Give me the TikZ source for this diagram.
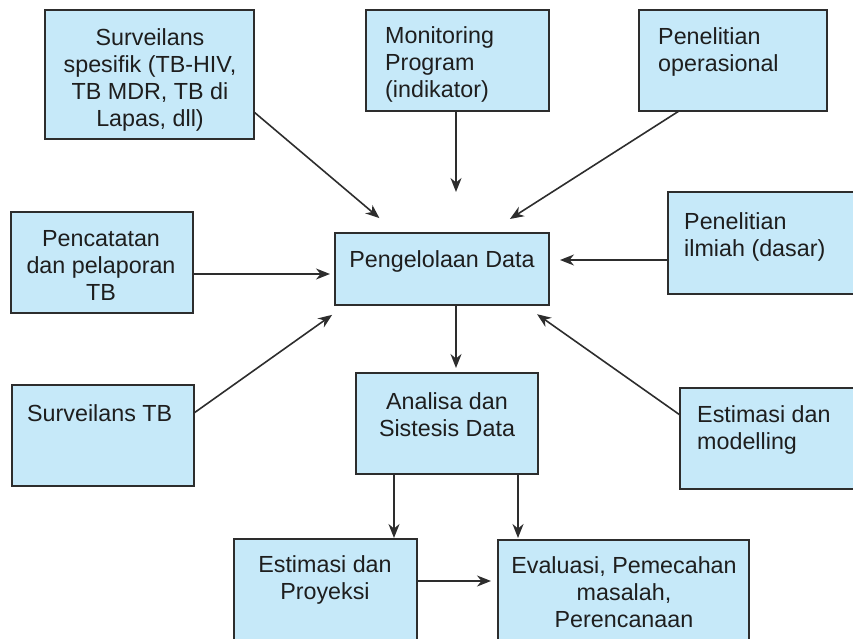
\documentclass[tikz,border=0pt]{standalone}
\usepackage{fontspec}
\setmainfont{Liberation Sans}
\usetikzlibrary{arrows.meta}
\definecolor{boxfill}{RGB}{198,233,249}
\definecolor{edgec}{RGB}{45,45,45}
\definecolor{txtc}{RGB}{30,30,30}
\begin{document}
\begin{tikzpicture}[x=1pt,y=-1pt,
  box/.style={draw=edgec, fill=boxfill, line width=1.4pt, anchor=north west, inner sep=0pt, outer sep=0pt},
  txt/.style={inner sep=0pt, text=txtc, font=\fontsize{23.3pt}{27pt}\selectfont},
  arr/.style={draw=edgec, line width=1.6pt, -{Stealth[length=14pt,width=11pt,inset=4.5pt]}}]
\clip (0,0) rectangle (853,639);
% boxes
\node[box, minimum width=209pt, minimum height=129pt] (spec) at (45,10) {};
\node[box, minimum width=183pt, minimum height=101pt] (mon) at (366,10) {};
\node[box, minimum width=188pt, minimum height=101pt] (op) at (639,10) {};
\node[box, minimum width=182pt, minimum height=101pt] (pen) at (11,212) {};
\node[box, minimum width=214pt, minimum height=72pt] (mgmt) at (335,233) {};
\node[box, minimum width=200pt, minimum height=102pt] (ilm) at (668,192) {};
\node[box, minimum width=182pt, minimum height=101pt] (surv) at (12,385) {};
\node[box, minimum width=182pt, minimum height=101pt] (ana) at (356,373) {};
\node[box, minimum width=200pt, minimum height=101pt] (mod) at (680,388) {};
\node[box, minimum width=183pt, minimum height=120pt] (proy) at (234,539) {};
\node[box, minimum width=251pt, minimum height=120pt] (eval) at (498,540) {};
% texts (base anchor = baseline of last line)
\node[txt, anchor=base, align=center] (spec-t) at (150,127) {Surveilans\\spesifik (TB-HIV,\\TB MDR, TB di\\Lapas, dll)};
\node[txt, anchor=base west, align=left] (mon-t) at (385,98) {Monitoring\\Program\\(indikator)};
\node[txt, anchor=base west, align=left] (op-t) at (658,72) {Penelitian\\operasional};
\node[txt, anchor=base, align=center] (pen-t) at (101,300) {Pencatatan\\dan pelaporan\\TB};
\node[txt, anchor=base] (mgmt-t) at (442,267) {Pengelolaan Data};
\node[txt, anchor=base west, align=left] (ilm-t) at (684,256) {Penelitian\\ilmiah (dasar)};
\node[txt, anchor=base west] (surv-t) at (27,421) {Surveilans TB};
\node[txt, anchor=base, align=center] (ana-t) at (447,436) {Analisa dan\\Sistesis Data};
\node[txt, anchor=base west, align=left] (mod-t) at (697,449) {Estimasi dan\\modelling};
\node[txt, anchor=base, align=center] (proy-t) at (325,599) {Estimasi dan\\Proyeksi};
\node[txt, anchor=base, align=center] (eval-t) at (624,627) {Evaluasi, Pemecahan\\masalah,\\Perencanaan};
% connectors
\draw[arr, shorten >=23pt] ([yshift=-37.5pt]spec.east) -- ([xshift=-45pt]mgmt.north);
\draw[arr, shorten >=41pt] ([xshift=-1.5pt]mon.south) -- ([xshift=14pt]mgmt.north);
\draw[arr, shorten >=26pt] ([xshift=-54pt]op.south) -- ([xshift=46pt]mgmt.north);
\draw[arr, shorten >=5pt] ([yshift=-11.5pt]pen.east) -- ([yshift=-5pt]mgmt.west);
\draw[arr, shorten >=11pt] ([yshift=-17pt]ilm.west) -- ([yshift=9pt]mgmt.east);
\draw[arr, shorten >=17pt] ([yshift=22.5pt]surv.east) -- ([xshift=-96pt]mgmt.south);
\draw[arr, shorten >=16pt] ([yshift=23.5pt]mod.west) -- ([xshift=82pt]mgmt.south);
\draw[arr, shorten >=5pt] ([xshift=14pt]mgmt.south) -- ([xshift=9pt]ana.north);
\draw[arr, shorten >=1pt] ([xshift=-53pt]ana.south) -- ([xshift=68.5pt]proy.north);
\draw[arr, shorten >=2pt] ([xshift=71pt]ana.south) -- ([xshift=-105.5pt]eval.north);
\draw[arr, shorten >=7pt] ([yshift=18pt]proy.east) -- ([yshift=19pt]eval.west);
\end{tikzpicture}
\end{document}
